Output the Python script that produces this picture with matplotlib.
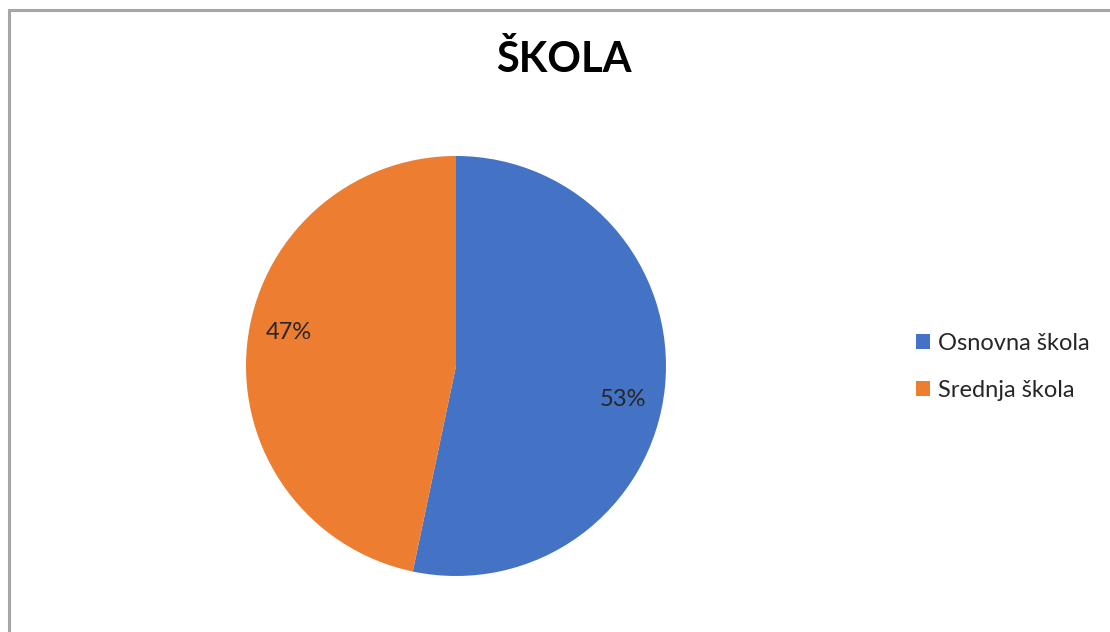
import numpy as np
import matplotlib.pyplot as plt
from matplotlib.patches import Rectangle

labels = ["Osnovna škola", "Srednja škola"]
shares = [53.3, 46.7]
colors = ["#4472C4", "#ED7D31"]
title = "ŠKOLA"

plt.rcParams["font.family"] = ["Lato", "DejaVu Sans"]

W, H = 1110, 632
fig = plt.figure(figsize=(W / 100, H / 100), dpi=100)

# light grey chart frame (left and top edges visible only)
fig.patches.append(Rectangle((8.5 / W, -0.1), 1.2, 1.1 - 9.5 / H, transform=fig.transFigure,
                             fill=False, edgecolor="#A6A6A6", linewidth=2.2))

cx, cy, r = 456, 632 - 366, 210
ax = fig.add_axes([(cx - r) / W, (cy - r) / H, 2 * r / W, 2 * r / H])
wedges, texts = ax.pie(
    shares, colors=colors, startangle=90, counterclock=False,
    wedgeprops=dict(linewidth=0),
)
# percentage labels, placed a little clockwise of each wedge middle like Excel does
for w, s in zip(wedges, shares):
    ang = np.deg2rad((w.theta1 + w.theta2) / 2 - 5.5)
    ax.text(0.81 * np.cos(ang), 0.81 * np.sin(ang), f"{s:.0f}%", ha="center", va="center",
            fontsize=17, color="#262626")
ax.set_xlim(-1, 1)
ax.set_ylim(-1, 1)
ax.set_aspect("equal")
ax.axis("off")

fig.text(564 / W, 1 - 72 / H, title, ha="center", va="baseline",
         fontsize=30, fontweight="bold", color="#000000")

fig.legend(wedges, labels, loc="center left", bbox_to_anchor=(916 / W, 1 - 367 / H),
           frameon=False, fontsize=17, handlelength=0.6, handleheight=0.6,
           handletextpad=0.35, labelspacing=1.1, borderpad=0, borderaxespad=0,
           labelcolor="#262626")

fig.savefig("out.png", dpi=100)
